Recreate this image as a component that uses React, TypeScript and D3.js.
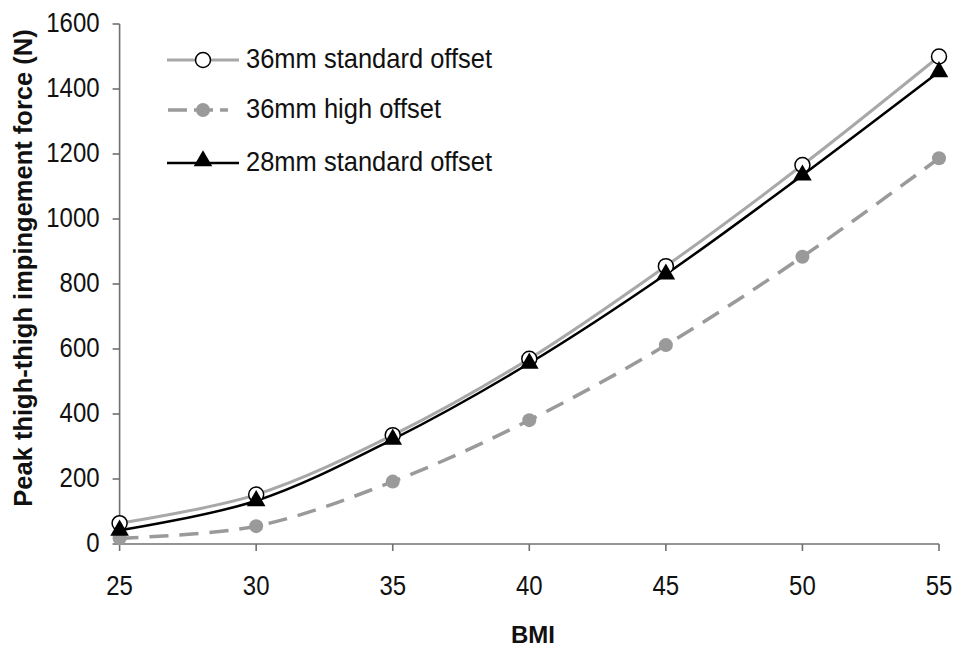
import React from "react";
import * as d3 from "d3";

const bmi = [25, 30, 35, 40, 45, 50, 55];
const std36 = [64, 152, 335, 570, 855, 1166, 1500];
const high36 = [18, 55, 192, 381, 612, 884, 1187];
const std28 = [42, 133, 322, 556, 830, 1135, 1453];
const yTicks = [0, 200, 400, 600, 800, 1000, 1200, 1400, 1600];
const xTicks = [25, 30, 35, 40, 45, 50, 55];
const legendLabels = ["36mm standard offset", "36mm high offset", "28mm standard offset"];

const W = 955;
const H = 648;
const FONT = "'Liberation Sans', Arial, sans-serif";

export default function App() {
  const x = d3.scaleLinear().domain([25, 55]).range([119.6, 939]);
  const y = d3.scaleLinear().domain([0, 1600]).range([544, 24]);
  const line = d3
    .line<number>()
    .x((_, i) => x(bmi[i]))
    .y((d) => y(d))
    .curve(d3.curveCatmullRom.alpha(0.5));
  const tri = d3.symbol().type(d3.symbolTriangle).size(150)() as string;

  const txt = (tx: number, ty: number, s: string, anchor: string, size: number, key?: any) => (
    <text
      key={key}
      transform={`translate(${tx},${ty}) scale(1,1.12)`}
      textAnchor={anchor}
      fontFamily={FONT}
      fontSize={size}
      fill="#111"
    >
      {s}
    </text>
  );

  return (
    <svg width={W} height={H} style={{ position: "absolute", left: 0, top: 0, background: "#fff" }}>
      <rect width={W} height={H} fill="#fff" />
      {/* axes */}
      <g stroke="#707070" strokeWidth={1.6} fill="none">
        <line x1={x(25)} x2={x(25)} y1={y(1600)} y2={y(0)} />
        <line x1={x(25)} x2={x(55)} y1={y(0)} y2={y(0)} />
        {yTicks.map((t) => (
          <line key={"yt" + t} x1={x(25) - 7} x2={x(25)} y1={y(t)} y2={y(t)} />
        ))}
        {xTicks.map((t) => (
          <line key={"xt" + t} x1={x(t)} x2={x(t)} y1={y(0)} y2={y(0) + 7} />
        ))}
      </g>
      {yTicks.map((t) => txt(x(25) - 20, y(t) + 8, String(t), "end", 24, "yl" + t))}
      {xTicks.map((t) => txt(x(t), 595, String(t), "middle", 24, "xl" + t))}
      <text
        x={533}
        y={643}
        textAnchor="middle"
        fontFamily={FONT}
        fontSize={24}
        fontWeight="bold"
        fill="#111"
      >
        BMI
      </text>
      <text
        transform={`translate(32,268) rotate(-90)`}
        textAnchor="middle"
        fontFamily={FONT}
        fontSize={25.5}
        fontWeight="bold"
        fill="#111"
      >
        Peak thigh-thigh impingement force (N)
      </text>

      {/* series lines */}
      <path d={line(high36) as string} fill="none" stroke="#9a9a9a" strokeWidth={3.5} strokeDasharray="19 11" />
      <path d={line(std36) as string} fill="none" stroke="#a8a8a8" strokeWidth={3} />
      <path d={line(std28) as string} fill="none" stroke="#000" strokeWidth={2.5} />

      {/* markers */}
      {high36.map((v, i) => (
        <circle key={"h" + i} cx={x(bmi[i])} cy={y(v)} r={7} fill="#9a9a9a" />
      ))}
      {std36.map((v, i) => (
        <circle key={"s" + i} cx={x(bmi[i])} cy={y(v)} r={7.5} fill="#fff" stroke="#000" strokeWidth={1.5} />
      ))}
      {std28.map((v, i) => (
        <path key={"t" + i} d={tri} transform={`translate(${x(bmi[i])},${y(v)})`} fill="#000" />
      ))}

      {/* legend */}
      <g>
        <line x1={167} x2={239} y1={60} y2={60} stroke="#a8a8a8" strokeWidth={3} />
        <circle cx={203} cy={60} r={7.5} fill="#fff" stroke="#000" strokeWidth={1.5} />
        {txt(246, 68, legendLabels[0], "start", 25.5)}
        <line x1={168} x2={228} y1={110} y2={110} stroke="#9a9a9a" strokeWidth={3.5} strokeDasharray="19 7" />
        <circle cx={203} cy={110} r={7} fill="#9a9a9a" />
        {txt(246, 118, legendLabels[1], "start", 25.5)}
        <line x1={167} x2={239} y1={163} y2={163} stroke="#000" strokeWidth={2.5} />
        <path d={tri} transform={`translate(203,161)`} fill="#000" />
        {txt(246, 171, legendLabels[2], "start", 25.5)}
      </g>
    </svg>
  );
}
